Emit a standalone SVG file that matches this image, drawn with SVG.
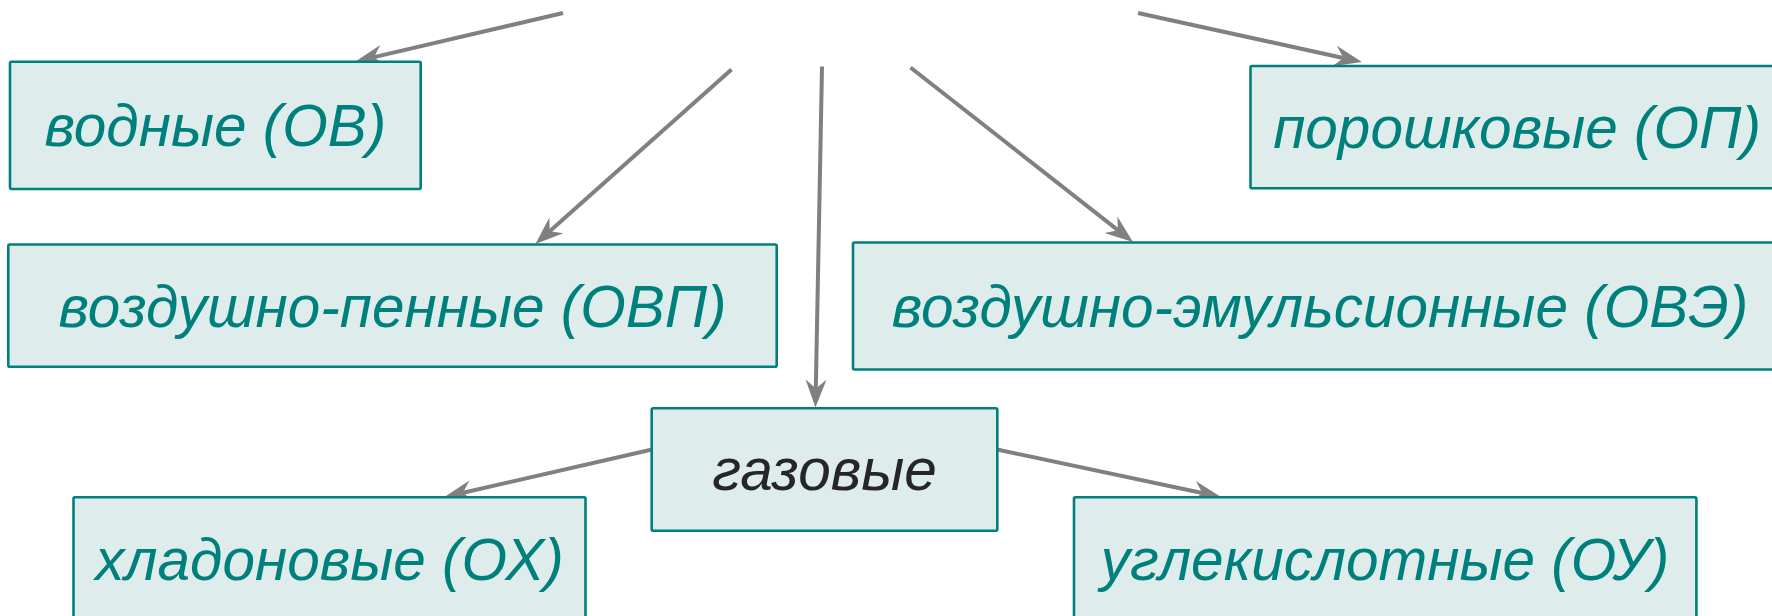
<svg xmlns="http://www.w3.org/2000/svg" width="1772" height="616" viewBox="0 0 1772 616">
<style>
.box{fill:#deecec;stroke:#00807c;stroke-width:2.6}
.lbl{font-family:"Liberation Sans",Arial,sans-serif;font-style:italic;font-size:58.5px;fill:#00807c;text-anchor:middle}
.dark{fill:#262626}
.edge{stroke:#808080;stroke-width:4;fill:none;marker-end:url(#arr)}
</style>
<defs>
<marker id="arr" markerUnits="userSpaceOnUse" viewBox="-29 -12 31 24" markerWidth="31" markerHeight="24" refX="-18" refY="0" orient="auto">
<path d="M0,0 L-28,-10.5 L-19,0 L-28,10.5 Z" fill="#808080"/>
</marker>
</defs>
<g id="connectors">
<line class="edge" x1="563" y1="13" x2="373" y2="57.4"/>
<line class="edge" x1="1138" y1="13" x2="1344.4" y2="58.2"/>
<line class="edge" x1="731.5" y1="69.5" x2="548.9" y2="232"/>
<line class="edge" x1="822" y1="66.5" x2="815.8" y2="389.5"/>
<line class="edge" x1="910.5" y1="67.5" x2="1118.8" y2="230.9"/>
<line class="edge" x1="652" y1="449.5" x2="462" y2="493"/>
<line class="edge" x1="997" y1="449.5" x2="1203.4" y2="493.3"/>
</g>
<g id="node-ov">
<rect class="box" x="10" y="61.7" width="410.7" height="127.3" rx="1.5"/>
<text class="lbl" x="215.4" y="146">водные (ОВ)</text>
</g>
<g id="node-op">
<rect class="box" x="1250.5" y="66" width="533" height="122.3" rx="1.5"/>
<text class="lbl" x="1517" y="148">порошковые (ОП)</text>
</g>
<g id="node-ovp">
<rect class="box" x="8.3" y="244.5" width="768.4" height="122.2" rx="1.5"/>
<text class="lbl" x="392.5" y="326.7">воздушно-пенные (ОВП)</text>
</g>
<g id="node-ove">
<rect class="box" x="853" y="242.5" width="934" height="127" rx="1.5"/>
<text class="lbl" x="1320" y="326.7">воздушно-эмульсионные (ОВЭ)</text>
</g>
<g id="node-gas">
<rect class="box" x="651.7" y="408.3" width="345.6" height="122.4" rx="1.5"/>
<text class="lbl dark" x="824.5" y="490">газовые</text>
</g>
<g id="node-ox">
<rect class="box" x="73.5" y="497.3" width="512" height="124" rx="1.5"/>
<text class="lbl" x="329.5" y="580">хладоновые (ОХ)</text>
</g>
<g id="node-ou">
<rect class="box" x="1074" y="497.3" width="622.4" height="124" rx="1.5"/>
<text class="lbl" x="1385" y="580">углекислотные (ОУ)</text>
</g>
</svg>
